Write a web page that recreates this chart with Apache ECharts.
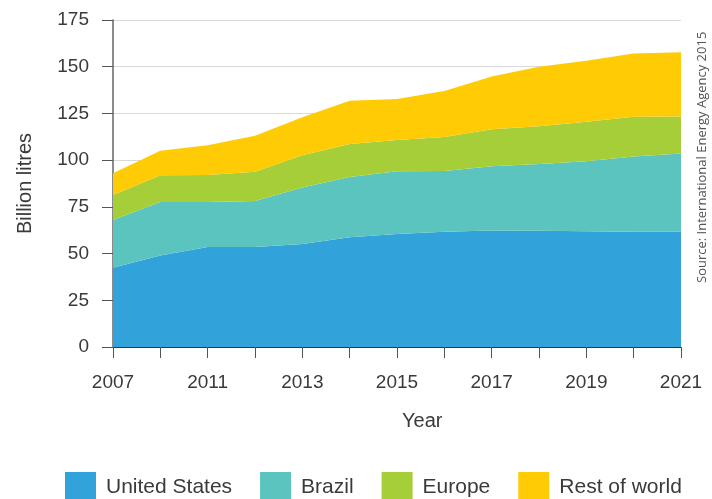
<!DOCTYPE html>
<html>
<head>
<meta charset="utf-8">
<script src="https://cdn.jsdelivr.net/npm/echarts@6/dist/echarts.min.js"></script>
<style>
  html, body { margin: 0; padding: 0; background: #fff; }
  #chart { width: 712px; height: 499px; }
</style>
</head>
<body>
<div id="chart"></div>
<script>
// years on the x axis (labels shown every other one)
const years = ['2007', '2010', '2011', '2012', '2013', '2014', '2015', '2016', '2017', '2018', '2019', '2020', '2021']

// billion litres per region, stacked
const unitedStates = [42.4, 49.0, 53.5, 53.5, 55.1, 58.7, 60.5, 61.7, 62.4, 62.2, 62.0, 61.7, 61.7]
const brazil = [25.5, 28.6, 24.1, 24.6, 30.3, 32.3, 33.5, 32.5, 34.3, 35.7, 37.4, 40.2, 41.9]
const europe = [13.4, 14.3, 14.4, 15.7, 17.2, 17.6, 16.8, 18.2, 19.8, 20.3, 21.1, 21.3, 19.8]
const restOfWorld = [11.7, 13.1, 16.0, 19.2, 20.3, 23.2, 21.9, 24.6, 28.3, 31.8, 32.7, 33.9, 34.4]

const seriesNames = ['United States', 'Brazil', 'Europe', 'Rest of world']
const seriesData = [unitedStates, brazil, europe, restOfWorld]
const colors = ['#31a2da', '#5bc4bf', '#a6ce39', '#ffcb05']

const font = '"Liberation Sans", Arial, sans-serif'
const textColor = '#3a3a3a'

const chart = echarts.init(document.getElementById('chart'))

const series = seriesNames.map((name, i) => ({
  name: name,
  type: 'line',
  stack: 'total',
  data: seriesData[i],
  showSymbol: false,
  symbol: 'none',
  lineStyle: { width: 0 },
  areaStyle: { color: colors[i], opacity: 1 },
  itemStyle: { color: colors[i] }
}))

const option = {
  animation: false,
  textStyle: { fontFamily: font },
  grid: { left: 113, right: 31, top: 20, bottom: 152 },
  legend: {
    left: 60,
    top: 467,
    itemWidth: 31,
    itemHeight: 31,
    itemGap: 28,
    icon: 'rect',
    data: seriesNames,
    textStyle: { fontSize: 21, color: textColor, fontFamily: font, padding: [28, 0, 0, 5] }
  },
  xAxis: {
    type: 'category',
    data: years,
    boundaryGap: false,
    axisLine: { lineStyle: { color: '#333', width: 1 } },
    axisTick: { show: true, interval: 0, length: 11, lineStyle: { color: '#555' } },
    axisLabel: {
      interval: (index) => index % 2 === 0,
      color: textColor,
      fontSize: 19,
      margin: 26
    },
    splitLine: { show: false }
  },
  yAxis: {
    type: 'value',
    min: 0,
    max: 175,
    interval: 25,
    name: 'Billion litres',
    nameLocation: 'middle',
    nameGap: 78,
    nameTextStyle: { fontSize: 20, color: textColor },
    axisLine: { show: true, lineStyle: { color: '#666', width: 1.5 } },
    axisTick: { show: true, length: 11, lineStyle: { color: '#555' } },
    axisLabel: { color: textColor, fontSize: 19, margin: 24 },
    splitLine: { show: true, lineStyle: { color: '#d9d9d9', width: 1 } }
  },
  graphic: [
    {
      type: 'text',
      left: 402,
      top: 411,
      style: { text: 'Year', fontSize: 20, fill: textColor, fontFamily: font }
    },
    {
      type: 'text',
      x: 696,
      y: 283,
      rotation: Math.PI / 2,
      style: {
        text: 'Source: International Energy Agency 2015',
        fontSize: 13,
        fill: '#555',
        fontFamily: '"Open Sans", "Noto Sans", sans-serif',
        align: 'left',
        verticalAlign: 'top'
      }
    }
  ],
  series: series
}

chart.setOption(option)
</script>
</body>
</html>
